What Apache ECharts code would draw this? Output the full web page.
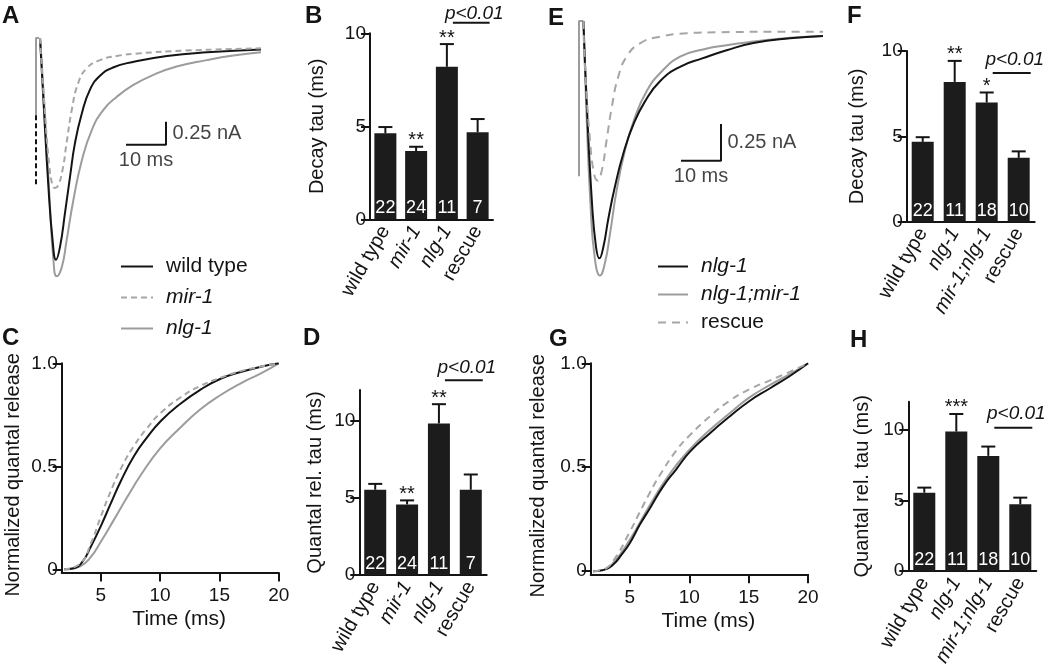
<!DOCTYPE html>
<html><head><meta charset="utf-8">
<script src="https://cdn.jsdelivr.net/npm/echarts@6/dist/echarts.min.js"></script>
<style>html,body{margin:0;padding:0;background:#fff}#c{width:1050px;height:672px}</style>
</head><body><div id="c"></div><script>
// ---------- DATA ----------
// Panel A: averaged EPSC traces [time ms, current nA]
const traceA_wildType = [[0.75,0.13],[1.6,-0.54],[2.8,-1.45],[3.9,-2.07],[4.75,-2.28],[5.75,-2.14],[7,-1.77],[8.25,-1.38],[9.5,-1.01],[11.2,-0.69],[13.25,-0.43],[15.75,-0.28],[19,-0.19],[24,-0.13],[32.5,-0.065],[42.5,-0.025],[56,0.005]];
const traceA_mir1 = [[0.75,0.13],[1.75,-0.54],[3.1,-1.27],[3.9,-1.47],[4.5,-1.5],[5.3,-1.47],[6.4,-1.3],[7.4,-1.01],[8.7,-0.65],[10.3,-0.36],[12.4,-0.2],[15.75,-0.11],[19.9,-0.065],[25.75,-0.036],[36.6,-0.007],[56,0.018]];
const traceA_nlg1 = [[0.8,0.13],[2,-0.72],[3.25,-1.7],[4.1,-2.28],[4.9,-2.46],[6.2,-2.36],[7.4,-2.07],[9.1,-1.63],[11.2,-1.2],[13.7,-0.87],[16.6,-0.65],[19.9,-0.51],[24.1,-0.38],[29.1,-0.27],[34.9,-0.18],[42.4,-0.11],[49.1,-0.06],[56,-0.025]];
const artifactA_top = [[-0.25,-0.71],[-0.25,0.13],[0.5,0.13]];
const artifactA_bottom = [[-0.25,-0.71],[-0.25,-1.49]];
const scaleBarA = [[22.25,-1.03],[32.25,-1.03],[32.25,-0.78]];
const scaleLabelsA = [[27.25,-1.03,'10 ms'],[32.25,-0.905,'0.25 nA']];

// Panel E traces
const traceE_nlg1 = [[1.1,0.118],[1.9,-0.43],[3.2,-1.125],[4.25,-1.45],[5.1,-1.53],[6.1,-1.45],[7.3,-1.26],[9,-1.03],[11.1,-0.8],[13.6,-0.6],[16.5,-0.44],[20.25,-0.3],[25.25,-0.2],[31,-0.14],[36.9,-0.085],[43.6,-0.035],[52.75,-0.002],[61,0.014]];
const traceE_nlg1mir1 = [[1.1,0.118],[1.75,-0.43],[2.9,-1.17],[4,-1.54],[5.25,-1.65],[6.5,-1.56],[7.75,-1.36],[9.4,-1.06],[11.5,-0.78],[14,-0.55],[16.9,-0.37],[20.25,-0.245],[25.25,-0.13],[31,-0.08],[36.9,-0.05],[43.6,-0.025],[52.75,0.002],[61,0.014]];
const traceE_rescue = [[1.1,0.118],[1.5,-0.2],[2.75,-0.71],[3.75,-0.94],[4.6,-0.99],[5.7,-0.92],[6.9,-0.71],[8.2,-0.48],[9.8,-0.27],[11.9,-0.13],[15.25,-0.037],[20.25,0.009],[26.9,0.033],[35.25,0.04],[52.75,0.044],[61,0.044]];
const artifactE = [[0,-0.96],[0,0.118],[1.1,0.118]];
const scaleBarE = [[25.5,-0.852],[35.5,-0.852],[35.5,-0.597]];
const scaleLabelsE = [[30.5,-0.852,'10 ms'],[35.5,-0.725,'0.25 nA']];

// Panel C: cumulative quantal release [time ms, normalized]
const cumC_wildType = [[1.9,0],[2.75,0.005],[3.45,0.037],[4.16,0.11],[5,0.21],[5.84,0.32],[6.7,0.43],[7.8,0.55],[8.9,0.64],[10.06,0.72],[11.74,0.805],[13.4,0.872],[15.1,0.925],[16.8,0.958],[18.5,0.983],[20,1]];
const cumC_mir1 = [[1.9,0],[3.3,0.03],[4.16,0.126],[5,0.256],[5.84,0.38],[6.7,0.49],[7.8,0.6],[8.9,0.685],[10.06,0.76],[11.74,0.835],[13.4,0.89],[15.1,0.93],[16.8,0.962],[18.5,0.984],[20,1]];
const cumC_nlg1 = [[1.9,0],[3.3,0.016],[4.16,0.06],[5,0.134],[6.1,0.24],[7.25,0.353],[8.4,0.46],[10,0.587],[11.74,0.69],[13.4,0.777],[15.1,0.846],[16.8,0.903],[18.5,0.951],[20,1]];
// Panel G
const cumG_nlg1 = [[1.9,0],[2.75,0.005],[3.6,0.032],[4.3,0.08],[5,0.136],[5.84,0.224],[6.7,0.304],[7.8,0.408],[8.9,0.49],[10.06,0.575],[11.74,0.664],[13.4,0.744],[15.1,0.82],[16.8,0.88],[18.5,0.94],[20,1]];
const cumG_nlg1mir1 = [[1.9,0],[2.75,0.006],[3.6,0.04],[5,0.152],[6.7,0.32],[8.4,0.472],[10.06,0.587],[11.74,0.68],[13.4,0.76],[15.1,0.837],[16.8,0.896],[18.5,0.949],[20,1]];
const cumG_rescue = [[1.9,0],[2.75,0.008],[3.6,0.05],[5,0.19],[5.84,0.285],[6.7,0.38],[7.5,0.46],[8.9,0.58],[10.06,0.655],[11.74,0.745],[13.4,0.82],[15.1,0.876],[16.8,0.918],[18.5,0.96],[20,1]];
const cumTicksX = [5,10,15,20];
const cumTicksY = [0,0.5,1];

// Bar panels
const catsBD = ['wild type','mir-1','nlg-1','rescue'];
const catsFH = ['wild type','nlg-1','mir-1;nlg-1','rescue'];
const nBD = ['22','24','11','7'];
const nFH = ['22','11','18','10'];
const decayB = [4.62,3.67,8.2,4.68];
const decayB_err = [4.96,3.9,9.42,5.39];
const starsB = ['','**','**',''];
const quantalD = [5.53,4.58,9.83,5.53];
const quantalD_err = [5.91,4.84,11.08,6.52];
const starsD = ['','**','**',''];
const decayF = [4.68,8.19,6.98,3.74];
const decayF_err = [4.95,9.42,7.57,4.12];
const starsF = ['','**','*',''];
const quantalH = [5.55,9.88,8.16,4.73];
const quantalH_err = [5.91,11.13,8.82,5.2];
const starsH = ['','***','',''];
const barTicks = [0,5,10];
const sigText = 'p<0.01';
const sigLevelB = 10.57, sigLevelD = 12.63, sigLevelF = 8.71, sigLevelH = 10.16;

// ---------- STYLE ----------
const FONT = "'Liberation Sans', Arial, Helvetica, sans-serif";
const INK = '#141414';
const GRAY = '#9c9c9c';
const DGRAY = '#a6a6a6';
const plain = new Set(['wild type','rescue']);
const rich = {
  n: {fontFamily: FONT, fontSize: 20, color: INK},
  i: {fontFamily: FONT, fontSize: 20, color: INK, fontStyle: 'italic'}
};
const legRich = {
  n: {fontFamily: FONT, fontSize: 21, color: INK, padding: [0,0,0,8], lineHeight: 22},
  i: {fontFamily: FONT, fontSize: 21, color: INK, fontStyle: 'italic', padding: [0,0,0,8], lineHeight: 22}
};
const fmtCat = v => plain.has(v) ? `{n|${v}}` : `{i|${v}}`;

const chart = echarts.init(document.getElementById('c'), null, {renderer: 'canvas'});

const axisLineStyle = {color: INK, width: 2};
function hiddenAxes(gi, xmin, xmax, ymin, ymax) {
  return [
    {gridIndex: gi, type: 'value', min: xmin, max: xmax, show: false},
    {gridIndex: gi, type: 'value', min: ymin, max: ymax, show: false}
  ];
}
function barXAxis(gi, cats) {
  return {gridIndex: gi, type: 'category', data: cats,
    axisLine: {lineStyle: axisLineStyle}, axisTick: {show: false},
    axisLabel: {interval: 0, rotate: 60, margin: 8, formatter: fmtCat, rich: rich},
    splitLine: {show: false}};
}
function barYAxis(gi, max, name, nameGap) {
  return {gridIndex: gi, type: 'value', min: 0, max: max, name: name,
    nameLocation: 'middle', nameGap: nameGap,
    nameTextStyle: {fontFamily: FONT, fontSize: 20, color: INK},
    axisLine: {show: true, lineStyle: axisLineStyle},
    axisTick: {show: true, length: 9, lineStyle: axisLineStyle, customValues: barTicks},
    axisLabel: {customValues: barTicks, fontFamily: FONT, fontSize: 19, color: INK, margin: 4},
    splitLine: {show: false}};
}
function cumXAxis(gi) {
  return {gridIndex: gi, type: 'value', min: 1.7, max: 20,
    name: 'Time (ms)', nameLocation: 'middle', nameGap: 36,
    nameTextStyle: {fontFamily: FONT, fontSize: 21, color: INK, padding: [0,0,0,18]},
    axisLine: {onZero: false, lineStyle: axisLineStyle},
    axisTick: {show: true, length: 9, lineStyle: axisLineStyle, customValues: cumTicksX},
    axisLabel: {customValues: cumTicksX, fontFamily: FONT, fontSize: 19, color: INK, margin: 14},
    splitLine: {show: false}};
}
function cumYAxis(gi, nameGap) {
  return {gridIndex: gi, type: 'value', min: -0.015, max: 1,
    name: 'Normalized quantal release', nameLocation: 'middle', nameGap: nameGap,
    nameTextStyle: {fontFamily: FONT, fontSize: 20, color: INK, padding: [0,14,0,0]},
    axisLine: {show: true, onZero: false, lineStyle: axisLineStyle},
    axisTick: {show: true, length: 9, lineStyle: axisLineStyle, customValues: cumTicksY},
    axisLabel: {customValues: cumTicksY, fontFamily: FONT, fontSize: 19, color: INK, margin: 4,
      formatter: v => v === 1 ? '1.0' : String(v)},
    splitLine: {show: false}};
}

function lineSeries(gi, name, data, color, dash) {
  return {type: 'line', name: name, xAxisIndex: gi, yAxisIndex: gi, data: data,
    symbol: 'none', smooth: true, silent: true,
    lineStyle: {color: color, width: 2, type: dash || 'solid'}, itemStyle: {color: color}};
}
function plainLine(gi, data, color, dash) {
  return {type: 'line', xAxisIndex: gi, yAxisIndex: gi, data: data, symbol: 'none', silent: true,
    lineStyle: {color: color, width: 2, type: dash || 'solid'}};
}
function scaleLabels(gi, items) {
  return {type: 'scatter', xAxisIndex: gi, yAxisIndex: gi, symbolSize: 1, silent: true,
    itemStyle: {color: 'rgba(0,0,0,0)'},
    data: items.map(d => ({value: [d[0], d[1]],
      label: {show: true, formatter: d[2], position: d[2] === '10 ms' ? 'bottom' : 'right',
        distance: d[2] === '10 ms' ? 5 : 6, fontFamily: FONT, fontSize: 20, color: INK}}))};
}
function barSeries(gi, vals, ns) {
  return {type: 'bar', xAxisIndex: gi, yAxisIndex: gi, data: vals, barWidth: 22, silent: true,
    itemStyle: {color: '#1c1c1c'},
    label: {show: true, position: 'insideBottom', distance: 2, formatter: p => ns[p.dataIndex],
      color: '#fff', fontFamily: FONT, fontSize: 18}};
}
function errSeries(gi, means, errs, stars) {
  return {type: 'custom', xAxisIndex: gi, yAxisIndex: gi, silent: true, z: 5,
    data: means.map((m, i) => [i, m, errs[i]]), encode: {x: 0, y: [1, 2]},
    renderItem(params, api) {
      const i = api.value(0);
      const p0 = api.coord([i, api.value(1)]);
      const p1 = api.coord([i, api.value(2)]);
      const st = {stroke: INK, lineWidth: 2};
      const ch = [
        {type: 'line', shape: {x1: p0[0], y1: p0[1], x2: p1[0], y2: p1[1]}, style: st},
        {type: 'line', shape: {x1: p1[0] - 7, y1: p1[1], x2: p1[0] + 7, y2: p1[1]}, style: st}
      ];
      const s = stars[params.dataIndex];
      if (s) ch.push({type: 'text', x: p1[0], y: p1[1] - 6,
        style: {text: s, fill: INK, fontSize: 20, fontFamily: FONT, align: 'center', verticalAlign: 'middle'}});
      return {type: 'group', children: ch};
    }};
}
function sigSeries(gi, level, gap) {
  return {type: 'custom', xAxisIndex: gi, yAxisIndex: gi, silent: true, z: 5,
    data: [[2, 3, level]], encode: {x: [0, 1], y: 2},
    renderItem(params, api) {
      const a = api.coord([api.value(0), api.value(2)]);
      const b = api.coord([api.value(1), api.value(2)]);
      const x1 = a[0] + 6, x2 = b[0] + 12, y = a[1];
      return {type: 'group', children: [
        {type: 'line', shape: {x1: x1, y1: y, x2: x2, y2: y}, style: {stroke: INK, lineWidth: 2}},
        {type: 'text', x: (x1 + x2) / 2 + 3, y: y - gap,
          style: {text: sigText, fill: INK, fontSize: 19, fontStyle: 'italic', fontFamily: FONT,
            align: 'center', verticalAlign: 'middle'}}
      ]};
    }};
}

const titleStyle = {fontFamily: FONT, fontSize: 24, fontWeight: 'bold', color: INK};
const letters = [['A',2,4],['B',305,4],['E',548,6],['F',847,4],['C',2,326],['D',303,326],['G',549,327],['H',850,328]];

const hA = hiddenAxes(0, -0.5, 56.25, -2.6, 0.2);
const hE = hiddenAxes(4, -0.5, 61, -1.8, 0.2);

const legendCommon = {orient: 'vertical', top: 256, padding: 0, itemHeight: 14, selectedMode: false,
  itemStyle: {opacity: 0}, formatter: n => fmtCat(n.slice(2)), textStyle: {rich: legRich}};

const option = {
  animation: false,
  backgroundColor: '#fff',
  title: letters.map(l => ({text: l[0], left: l[1], top: l[2], padding: 0, textStyle: titleStyle})),
  legend: [
    Object.assign({}, legendCommon, {data: ['A:wild type','A:mir-1','A:nlg-1'], left: 120, itemWidth: 32, itemGap: 10}),
    Object.assign({}, legendCommon, {data: ['E:nlg-1','E:nlg-1;mir-1','E:rescue'], left: 657, itemWidth: 30, itemGap: 7})
  ],
  grid: [
    {left: 35, top: 31.6, width: 227, height: 257.6},
    {left: 370, top: 33.3, width: 123, height: 186},
    {left: 61.7, top: 363.3, width: 217, height: 209.1},
    {left: 359.3, top: 390, width: 127.4, height: 185},
    {left: 577, top: 9.2, width: 246, height: 288},
    {left: 906.7, top: 51, width: 128, height: 170.7},
    {left: 590.7, top: 363.3, width: 217.4, height: 211},
    {left: 908.3, top: 401.7, width: 128, height: 169.3}
  ],
  xAxis: [hA[0], barXAxis(1, catsBD), cumXAxis(2), barXAxis(3, catsBD), hE[0], barXAxis(5, catsFH), cumXAxis(6), barXAxis(7, catsFH)],
  yAxis: [hA[1], barYAxis(1, 10, 'Decay tau (ms)', 43), cumYAxis(2, 38), barYAxis(3, 12, 'Quantal rel. tau (ms)', 34),
          hE[1], barYAxis(5, 10, 'Decay tau (ms)', 39), cumYAxis(6, 42), barYAxis(7, 12, 'Quantal rel. tau (ms)', 36)],
  series: [
    // A
    plainLine(0, artifactA_top, GRAY),
    plainLine(0, artifactA_bottom, INK, [5, 3]),
    lineSeries(0, 'A:nlg-1', traceA_nlg1, GRAY),
    lineSeries(0, 'A:wild type', traceA_wildType, INK),
    lineSeries(0, 'A:mir-1', traceA_mir1, DGRAY, [6, 4]),
    plainLine(0, scaleBarA, INK),
    scaleLabels(0, scaleLabelsA),
    // B
    barSeries(1, decayB, nBD), errSeries(1, decayB, decayB_err, starsB), sigSeries(1, sigLevelB, 9),
    // C
    lineSeries(2, 'A:nlg-1', cumC_nlg1, GRAY),
    lineSeries(2, 'A:wild type', cumC_wildType, INK),
    lineSeries(2, 'A:mir-1', cumC_mir1, DGRAY, [6, 4]),
    // D
    barSeries(3, quantalD, nBD), errSeries(3, quantalD, quantalD_err, starsD), sigSeries(3, sigLevelD, 13),
    // E
    plainLine(4, artifactE, GRAY),
    lineSeries(4, 'E:nlg-1;mir-1', traceE_nlg1mir1, GRAY),
    lineSeries(4, 'E:nlg-1', traceE_nlg1, INK),
    lineSeries(4, 'E:rescue', traceE_rescue, DGRAY, [8, 6]),
    plainLine(4, scaleBarE, INK),
    scaleLabels(4, scaleLabelsE),
    // F
    barSeries(5, decayF, nFH), errSeries(5, decayF, decayF_err, starsF), sigSeries(5, sigLevelF, 13),
    // G
    lineSeries(6, 'E:nlg-1;mir-1', cumG_nlg1mir1, GRAY),
    lineSeries(6, 'E:nlg-1', cumG_nlg1, INK),
    lineSeries(6, 'E:rescue', cumG_rescue, DGRAY, [7, 5]),
    // H
    barSeries(7, quantalH, nFH), errSeries(7, quantalH, quantalH_err, starsH), sigSeries(7, sigLevelH, 14)
  ]
};
chart.setOption(option);
</script></body></html>
